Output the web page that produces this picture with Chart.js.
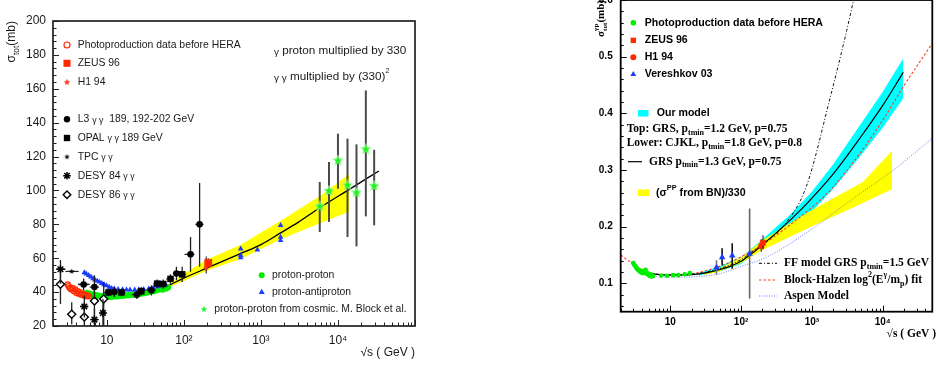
<!DOCTYPE html>
<html><head><meta charset="utf-8">
<script src="https://cdn.jsdelivr.net/npm/chart.js@4.4.0/dist/chart.umd.min.js"></script>
<style>
html,body{margin:0;padding:0;background:#fff;overflow:hidden;width:937px;height:365px;}
#c1{position:absolute;left:0;top:0;width:470px;height:365px;}
#c2{position:absolute;left:470px;top:-15px;width:467px;height:380px;}
</style></head><body>
<canvas id="c1" width="470" height="365"></canvas>
<canvas id="c2" width="467" height="380"></canvas>
<script>
// ================= LEFT PANEL DATA (sigma_tot, mb) =================
const leftXTicks = [10, 100, 1000, 10000];
const leftXTickLabels = ['10', '10²', '10³', '10⁴'];
const leftYTicks = [20, 40, 60, 80, 100, 120, 140, 160, 180, 200];

const photoX = [3.1, 3.2, 3.3, 3.45, 3.6, 3.75, 3.9, 4.05, 4.2, 4.35, 4.5, 4.65, 4.8, 5.0, 5.2, 5.4, 5.65, 5.9];
const photoY = [44.5, 43.5, 42.5, 41.5, 42.5, 40.5, 41.5, 39.5, 40.5, 39.0, 40.0, 38.5, 39.0, 38.0, 38.5, 37.5, 38.0, 37.5];

const zeusX = [207], zeusY = [57.2], zeusLo = [54.5], zeusHi = [60];
const h1X = [195], h1Y = [54.4], h1Lo = [51], h1Hi = [61];

const l3X = [5.0, 6.9, 12.5, 24.5, 37.8, 80, 122, 160];
const l3Y = [44.5, 43.0, 40.0, 38.5, 41.0, 51.0, 62.3, 80.0];
const l3Lo = [41, 36, 37, 36, 38, 47, 52, 55];
const l3Hi = [48, 50, 43, 41, 44, 55, 72.5, 104.4];
const l3XLo = [4.3, 6.0, 11, 21, 33, 72, 102, 141];
const l3XHi = [5.8, 7.9, 14, 28, 43, 90, 137, 180];

const opalX = [10.5, 15.5, 28, 45, 54, 67, 95];
const opalY = [39.8, 39.8, 40.5, 45.0, 44.8, 47.8, 50.5];
const opalLo = [37.5, 37.5, 38, 42.5, 42, 45, 46];
const opalHi = [42, 42, 43, 47.5, 47.5, 50.5, 55];
const opalXLo = [9, 13.5, 25, 40, 48, 59, 84];
const opalXHi = [12, 17.5, 31, 50, 60, 75, 107];

const tpcX = [3.5, 5.0], tpcY = [52.2, 44.6], tpcXLo = [2.9, 4.2], tpcXHi = [4.3, 6.0];

const desy84X = [2.5, 5.1, 6.9, 8.9];
const desy84Y = [53.5, 31.5, 23.8, 27.7];
const desy84Lo = [45, 25, 20, 20], desy84Hi = [59, 38, 30, 36];
const desy84XLo = [2.2, 4.5, 6.1, 8.2], desy84XHi = [2.9, 5.7, 7.8, 9.7];

const desy86X = [2.5, 3.5, 5.1, 6.9, 9.1];
const desy86Y = [44.6, 26.9, 25.3, 34.7, 36.0];
const desy86Lo = [33, 21, 20, 22, 20], desy86Hi = [51, 34, 31, 45, 46];
const desy86XLo = [2.2, 3.1, 4.5, 6.1, 8.3], desy86XHi = [2.9, 4.0, 5.7, 7.8, 10];

const ppX = [5.5, 6.0, 6.5, 7.0, 7.5, 8.0, 8.7, 9.4, 10.2, 11, 12, 13, 14, 15.5, 17, 19, 21, 23, 25, 27.5, 30, 33, 37, 41, 45, 50, 53, 58, 62];
const ppY = [39.5, 39.0, 38.6, 38.2, 38.0, 37.7, 37.5, 37.4, 37.3, 37.3, 37.4, 37.5, 37.6, 37.8, 38.0, 38.2, 38.4, 38.6, 38.8, 39.1, 39.4, 39.8, 40.2, 40.7, 41.2, 41.8, 41.5, 42.2, 42.8];

const pbarX = [5.1, 5.4, 5.8, 6.2, 6.6, 7.0, 7.5, 8.0, 8.6, 9.2, 9.9, 10.7, 11.5, 12.5, 14, 16, 18, 20, 23, 26, 30, 35, 40, 46, 52, 58, 546, 546, 546, 900, 1800, 1800, 1800];
const pbarY = [51.5, 50.8, 49.9, 49.0, 48.0, 47.3, 46.6, 46.0, 45.2, 44.5, 43.8, 43.0, 42.3, 42.0, 41.7, 41.5, 41.4, 41.4, 41.4, 41.5, 41.7, 42.0, 42.5, 43.2, 43.8, 44.5, 60.3, 61.7, 65.6, 65.0, 70.5, 72.5, 79.4];

const cosmicX = [5800, 7650, 10000, 13300, 17400, 23000, 29500];
const cosmicY = [90.6, 99.7, 117.6, 103.0, 98.7, 124.3, 102.6];
const cosmicLo = [75.5, 81.4, 101, 72.5, 67, 84.7, 79.4];
const cosmicHi = [105, 116.8, 133.5, 130.6, 127.2, 159, 124];

const fitX = [5, 7, 10, 15, 20, 30, 43, 60, 97, 204, 541, 1000, 1780, 3000, 5680, 13900, 34000];
const fitY = [39.3, 38.9, 38.7, 38.7, 38.9, 39.6, 41.2, 43.5, 48.0, 54.4, 62.7, 68.0, 74.8, 81.0, 89.5, 100.5, 111.5];

const bandX = [60, 100, 207, 546, 1780, 5700, 14000];
const bandUp = [43.5, 51, 59.5, 68, 82, 96.5, 109.5];
const bandLow = [42.5, 46.5, 53, 59.5, 71, 80.5, 87.5];

// ================= RIGHT PANEL DATA (sigma_tot gamma-p, mb) =================
const rXTicks = [10, 100, 1000, 10000];
const rXTickLabels = ['10', '10²', '10³', '10⁴'];
const rYTicks = [0.1, 0.2, 0.3, 0.4, 0.5, 0.6];

const gpX = [3.0, 3.1, 3.2, 3.3, 3.4, 3.5, 3.6, 3.7, 3.8, 3.9, 4.0, 4.1, 4.2, 4.35, 4.5, 4.6, 4.75, 4.9, 5.0, 5.15, 5.3, 5.45, 5.6, 5.75, 7.5, 9, 11, 13, 16, 19];
const gpY = [0.136, 0.133, 0.131, 0.128, 0.126, 0.124, 0.123, 0.121, 0.122, 0.119, 0.121, 0.118, 0.122, 0.119, 0.124, 0.117, 0.118, 0.115, 0.117, 0.113, 0.116, 0.112, 0.114, 0.113, 0.114, 0.1135, 0.1145, 0.1145, 0.116, 0.118];

const rZeusX = [204], rZeusY = [0.172], rZeusLo = [0.160], rZeusHi = [0.185];
const rH1X = [193], rH1Y = [0.166], rH1Lo = [0.156], rH1Hi = [0.178];

const verX = [45, 54, 75, 132];
const verY = [0.128, 0.146, 0.149, 0.152];
const verLo = [0.115, 0.132, 0.126, 0.0735];
const verHi = [0.141, 0.162, 0.171, 0.232];

const grsX = [5.5, 7, 10, 20, 30, 45, 70, 100, 140, 200, 400, 880, 2000, 5000, 10000, 19500];
const grsY = [0.117, 0.1155, 0.1148, 0.1155, 0.118, 0.123, 0.130, 0.139, 0.152, 0.168, 0.201, 0.243, 0.293, 0.360, 0.414, 0.4724];

const cyanX = [25, 45, 100, 200, 500, 1000, 2000, 5000, 10000, 19500];
const cyanUp = [0.118, 0.128, 0.146, 0.178, 0.222, 0.262, 0.310, 0.383, 0.438, 0.497];
const cyanLow = [0.114, 0.119, 0.134, 0.163, 0.196, 0.227, 0.267, 0.327, 0.375, 0.4265];

const bnX = [30, 45, 100, 200, 832, 5220, 13500];
const bnUp = [0.118, 0.124, 0.145, 0.176, 0.2235, 0.279, 0.334];
const bnLow = [0.115, 0.119, 0.136, 0.159, 0.196, 0.242, 0.266];

const bhX = [2, 3, 4, 5, 7, 10, 15, 20, 30, 50, 100, 200, 500, 1000, 2000, 5000, 10000, 19500, 50000];
const bhY = [0.150, 0.134, 0.124, 0.119, 0.1157, 0.1148, 0.1152, 0.117, 0.1215, 0.130, 0.147, 0.168, 0.204, 0.234, 0.270, 0.333, 0.388, 0.447, 0.5235];

const aspenX = [5, 7, 10, 20, 50, 100, 200, 331, 1000, 2460, 5000, 13500, 50000];
const aspenY = [0.113, 0.1115, 0.111, 0.1115, 0.117, 0.130, 0.143, 0.157, 0.196, 0.232, 0.260, 0.298, 0.356];

const ffX = [5.5, 10, 20, 50, 100, 200, 390, 832, 1774, 3110, 4200];
const ffY = [0.117, 0.1145, 0.116, 0.126, 0.142, 0.170, 0.200, 0.2706, 0.4235, 0.547, 0.62];

// ================= HELPERS =================
const H = Chart.helpers;
const LF = '"Liberation Sans", Arial, Helvetica, sans-serif';
const SF = '"Liberation Serif", "Times New Roman", serif';
const pts = (xs, ys) => xs.map((x, i) => ({x, y: ys[i]}));
const pairs = (a, b) => a.map((v, i) => [v, b[i]]);

function starImg(size, fill, stroke) {
  const c = document.createElement('canvas');
  c.width = size; c.height = size;
  const g = c.getContext('2d');
  const cx = size / 2, cy = size / 2, R = size / 2 - 0.6, r = R * 0.42;
  g.beginPath();
  for (let i = 0; i < 10; i++) {
    const a = -Math.PI / 2 + i * Math.PI / 5, rr = i % 2 ? r : R;
    const px = cx + rr * Math.cos(a), py = cy + rr * Math.sin(a);
    if (i) g.lineTo(px, py); else g.moveTo(px, py);
  }
  g.closePath();
  g.fillStyle = fill; g.fill();
  if (stroke) { g.strokeStyle = stroke; g.lineWidth = 0.8; g.stroke(); }
  return c;
}
const greenStar = starImg(12, '#22f022', '#9cff9c');
const greenStarSmall = starImg(8, '#22f022', null);
const redStar = starImg(8, '#ff3010', null);
const blackStar = starImg(7, '#000', null);

function rich(ctx, x, y, parts, o) {
  const size = o.size, weight = o.weight || 'normal', fam = o.family, align = o.align || 'left';
  const segs = parts.map(p => typeof p === 'string' ? {t: p} : p);
  let cur = 0, prevStart = 0;
  const lay = [];
  for (const s of segs) {
    const sz = size * (s.s || 1);
    ctx.font = `${weight} ${sz}px ${s.f || fam}`;
    const w = ctx.measureText(s.t).width;
    let sx;
    if (s.stack) { sx = prevStart; cur = Math.max(cur, sx + w); }
    else { sx = cur; cur = sx + w; }
    prevStart = sx;
    lay.push({s, sx, font: ctx.font});
  }
  const x0 = align === 'right' ? x - cur : align === 'center' ? x - cur / 2 : x;
  ctx.textAlign = 'left'; ctx.textBaseline = 'middle'; ctx.fillStyle = o.color || '#000';
  for (const L of lay) { ctx.font = L.font; ctx.fillText(L.s.t, x0 + L.sx, y + (L.s.dy || 0) * size); }
  return cur;
}
function richRot(ctx, x, y, parts, o) {
  ctx.save(); ctx.translate(x, y); ctx.rotate(-Math.PI / 2); rich(ctx, 0, 0, parts, o); ctx.restore();
}
function marker(ctx, style, x, y, r, fill, stroke, bw) {
  ctx.save();
  ctx.fillStyle = fill; ctx.strokeStyle = stroke || fill; ctx.lineWidth = bw || 0;
  H.drawPoint(ctx, {pointStyle: style, radius: r, rotation: 0, borderWidth: bw || 0}, x, y);
  ctx.restore();
}

const errorBars = {
  id: 'errorBars',
  beforeDatasetDraw(chart, args) {
    const ds = chart.data.datasets[args.index];
    if (!ds.errY && !ds.errX) return;
    const {ctx, chartArea: a, scales: {x, y}} = chart;
    ctx.save();
    ctx.beginPath(); ctx.rect(a.left, a.top, a.right - a.left, a.bottom - a.top); ctx.clip();
    ctx.lineWidth = ds.errWidth || 1;
    ds.data.forEach((p, i) => {
      ctx.strokeStyle = Array.isArray(ds.errColor) ? ds.errColor[i] : (ds.errColor || '#000');
      const px = x.getPixelForValue(p.x), py = y.getPixelForValue(p.y);
      ctx.beginPath();
      if (ds.errY) { ctx.moveTo(px, y.getPixelForValue(ds.errY[i][0])); ctx.lineTo(px, y.getPixelForValue(ds.errY[i][1])); }
      if (ds.errX) { ctx.moveTo(x.getPixelForValue(ds.errX[i][0]), py); ctx.lineTo(x.getPixelForValue(ds.errX[i][1]), py); }
      ctx.stroke();
    });
    ctx.restore();
  }
};

function makeFrame(o) {
  return {
    id: 'frame' + o.name,
    afterDatasetsDraw(chart) {
      const {ctx, chartArea: a, scales: {x, y}} = chart;
      ctx.save();
      ctx.strokeStyle = o.color; ctx.lineWidth = 1;
      ctx.beginPath();
      const i0 = Math.ceil(y.min / o.yMinor - 1e-6), i1 = Math.floor(y.max / o.yMinor + 1e-6);
      for (let i = i0; i <= i1; i++) {
        const v = i * o.yMinor;
        const q = v / o.yMajor, isMajor = Math.abs(q - Math.round(q)) < 1e-6;
        const py = Math.round(y.getPixelForValue(v)) + 0.5;
        ctx.moveTo(a.left, py); ctx.lineTo(a.left + (isMajor ? o.major : o.minor), py);
      }
      for (let e = Math.floor(Math.log10(x.min)); e <= Math.ceil(Math.log10(x.max)); e++) {
        for (let k = 1; k <= 9; k++) {
          const v = k * Math.pow(10, e);
          if (v < x.min * 0.999 || v > x.max * 1.001) continue;
          const px = Math.round(x.getPixelForValue(v)) + 0.5;
          ctx.moveTo(px, a.bottom); ctx.lineTo(px, a.bottom - (k === 1 ? o.major : o.minor));
        }
      }
      ctx.stroke();
      ctx.lineWidth = o.frameWidth;
      ctx.strokeRect(a.left, a.top, a.right - a.left, a.bottom - a.top);
      ctx.restore();
    }
  };
}

// ================= LEFT CHART =================
const leftAnnot = {
  id: 'leftAnnot',
  afterDraw(chart) {
    const ctx = chart.ctx;
    ctx.save();
    const T = {size: 10.4, family: LF, color: '#1a1a1a'};
    const g = {t: 'γ γ', s: 0.85, dy: 0.1};
    const mx = 67, tx = 77.7;
    marker(ctx, 'circle', mx, 45, 3, '#fff', '#ff2a00', 1.2);
    rich(ctx, tx, 45, ['Photoproduction data before HERA'], T);
    marker(ctx, 'rect', mx, 63.3, 5, '#ff2a00');
    rich(ctx, tx, 63.3, ['ZEUS 96'], T);
    marker(ctx, redStar, mx, 82.3, 4);
    rich(ctx, tx, 82.3, ['H1 94'], T);
    marker(ctx, 'circle', mx, 119.3, 3.2, '#000');
    rich(ctx, tx, 119.3, ['L3 ', g, '  189, 192-202 GeV'], T);
    marker(ctx, 'rect', mx, 138, 4.5, '#000');
    rich(ctx, tx, 138, ['OPAL ', g, ' 189 GeV'], T);
    marker(ctx, blackStar, mx, 157, 3);
    rich(ctx, tx, 157, ['TPC ', g], T);
    marker(ctx, 'star', mx, 175.7, 3.8, '#000', '#000', 1.5);
    rich(ctx, tx, 175.7, ['DESY 84 ', g], T);
    marker(ctx, 'rectRot', mx, 194.7, 3.8, '#fff', '#000', 1.4);
    rich(ctx, tx, 194.7, ['DESY 86 ', g], T);

    const T2 = {size: 11.7, family: LF, color: '#1a1a1a'};
    rich(ctx, 274, 51, [{t: 'γ', s: 0.85, dy: 0.1}, ' proton multiplied by 330'], T2);
    rich(ctx, 274, 77, [{t: 'γ γ', s: 0.85, dy: 0.1}, ' multiplied by (330)', {t: '2', s: 0.6, dy: -0.55}], T2);

    marker(ctx, 'circle', 261.7, 275.3, 3, '#00ee00');
    rich(ctx, 272, 275.3, ['proton-proton'], T);
    marker(ctx, 'triangle', 261.7, 292.3, 3.5, '#1a3cff');
    rich(ctx, 272, 292.3, ['proton-antiproton'], T);
    marker(ctx, greenStarSmall, 204, 309.3, 4);
    rich(ctx, 214.3, 309.3, ['proton-proton from cosmic. M. Block et al.'], T);

    richRot(ctx, 12, 21, ['σ', {t: 'tot', s: 0.7, dy: 0.35}, '(mb)'], {size: 12, family: LF, color: '#1a1a1a', align: 'right'});
    rich(ctx, 415, 352.7, ['√s ( GeV )'], {size: 12, family: LF, color: '#1a1a1a', align: 'right'});
    ctx.restore();
  }
};

const ptDS = (o) => Object.assign({showLine: false, pointBorderWidth: 0, borderWidth: 0}, o);
const leftDatasets = [
  ptDS({label: 'proton-proton from cosmic', data: pts(cosmicX, cosmicY), pointStyle: greenStar, pointRadius: 6,
    errY: pairs(cosmicLo, cosmicHi), errColor: '#4a4a4a', errWidth: 2, order: 1}),
  ptDS({label: 'ZEUS 96', data: pts(zeusX, zeusY), pointStyle: 'rect', pointRadius: 5.5,
    pointBackgroundColor: '#ff2a00', errY: pairs(zeusLo, zeusHi), errColor: '#333', errWidth: 1.2, order: 2}),
  ptDS({label: 'H1 94', data: pts(h1X, h1Y), pointStyle: redStar, pointRadius: 4,
    errY: pairs(h1Lo, h1Hi), errColor: '#333', errWidth: 1.2, order: 2}),
  ptDS({label: 'L3', data: pts(l3X, l3Y), pointStyle: 'circle', pointRadius: 3.3, pointBackgroundColor: '#000',
    errY: pairs(l3Lo, l3Hi), errX: pairs(l3XLo, l3XHi), errColor: '#222', errWidth: 1.3, order: 2}),
  ptDS({label: 'OPAL', data: pts(opalX, opalY), pointStyle: 'rect', pointRadius: 4.6, pointBackgroundColor: '#000',
    errY: pairs(opalLo, opalHi), errX: pairs(opalXLo, opalXHi), errColor: '#222', errWidth: 1.3, order: 2}),
  ptDS({label: 'TPC', data: pts(tpcX, tpcY), pointStyle: blackStar, pointRadius: 3,
    errX: pairs(tpcXLo, tpcXHi), errColor: '#222', errWidth: 1.2, order: 3}),
  ptDS({label: 'DESY 84', data: pts(desy84X, desy84Y), pointStyle: 'star', pointRadius: 4, pointBorderWidth: 1.5,
    pointBorderColor: '#000', errY: pairs(desy84Lo, desy84Hi), errX: pairs(desy84XLo, desy84XHi), errColor: '#222', errWidth: 1.3, order: 3}),
  ptDS({label: 'DESY 86', data: pts(desy86X, desy86Y), pointStyle: 'rectRot', pointRadius: 4, pointBorderWidth: 1.4,
    pointBorderColor: '#000', pointBackgroundColor: '#fff', errY: pairs(desy86Lo, desy86Hi), errX: pairs(desy86XLo, desy86XHi), errColor: '#222', errWidth: 1.3, order: 3}),
  ptDS({label: 'Photoproduction before HERA', data: pts(photoX, photoY), pointStyle: 'circle', pointRadius: 2.6,
    pointBorderWidth: 1.2, pointBorderColor: '#ff2a00', pointBackgroundColor: 'rgba(255,255,255,0)', order: 4}),
  ptDS({label: 'proton-antiproton', data: pts(pbarX, pbarY), pointStyle: 'triangle', pointRadius: 3.3,
    pointBackgroundColor: '#1a3cff', order: 5}),
  ptDS({label: 'proton-proton', data: pts(ppX, ppY), pointStyle: 'circle', pointRadius: 3.2,
    pointBackgroundColor: '#00ee00', order: 6}),
  {label: 'fit', data: pts(fitX, fitY), showLine: true, pointRadius: 0, borderColor: '#000', borderWidth: 1.3,
    cubicInterpolationMode: 'monotone', fill: false, order: 10},
  {label: 'band low', data: pts(bandX, bandLow), showLine: true, pointRadius: 0, borderColor: 'rgba(0,0,0,0)', borderWidth: 0, fill: false, order: 20},
  {label: 'band up', data: pts(bandX, bandUp), showLine: true, pointRadius: 0, borderColor: 'rgba(0,0,0,0)', borderWidth: 0,
    fill: '-1', backgroundColor: '#ffff00', order: 20}
];

new Chart(document.getElementById('c1'), {
  type: 'scatter',
  data: {datasets: leftDatasets},
  options: {
    responsive: false, animation: false, events: [],
    layout: {padding: {left: 0, right: 55, top: 21, bottom: 0}},
    plugins: {legend: {display: false}, tooltip: {enabled: false}},
    scales: {
      x: {type: 'logarithmic', min: 2, max: 1e5,
        grid: {display: false, drawTicks: false}, border: {display: false},
        afterBuildTicks: s => { s.ticks = leftXTicks.map(v => ({value: v})); },
        afterFit: s => { s.height = 39; },
        ticks: {autoSkip: false, maxRotation: 0, padding: 7, color: '#1a1a1a', font: {family: LF, size: 12},
          callback: (v, i) => leftXTickLabels[i]}},
      y: {type: 'linear', min: 20, max: 200,
        grid: {display: false, drawTicks: false}, border: {display: false},
        afterBuildTicks: s => { s.ticks = leftYTicks.map(v => ({value: v})); },
        afterFit: s => { s.width = 53; },
        ticks: {padding: 7, color: '#1a1a1a', font: {family: LF, size: 12}, callback: v => String(v)}}
    }
  },
  plugins: [errorBars, makeFrame({name: 'L', color: '#222', yMinor: 4, yMajor: 20, major: 6, minor: 3.5, frameWidth: 1.7}), leftAnnot]
});

// ================= RIGHT CHART =================
const rightAnnot = {
  id: 'rightAnnot',
  afterDraw(chart) {
    const ctx = chart.ctx;
    ctx.save();
    ctx.translate(-470, 15); // page coordinates
    const B = {size: 10.6, family: LF, weight: 'bold', color: '#000'};
    const S = {size: 11.5, family: SF, weight: 'bold', color: '#000'};
    const sub = t => ({t, s: 0.7, dy: 0.3});
    const sup = t => ({t, s: 0.7, dy: -0.4});
    const mx = 633.3, tx = 644.7;
    marker(ctx, 'circle', mx, 22.7, 2.8, '#00ee00');
    rich(ctx, tx, 22.7, ['Photoproduction data before HERA'], B);
    marker(ctx, 'rect', mx, 40.3, 3.8, '#ff2a00');
    rich(ctx, tx, 40.3, ['ZEUS 96'], B);
    marker(ctx, 'circle', mx, 57.3, 3, '#ff2a00');
    rich(ctx, tx, 57.3, ['H1 94'], B);
    marker(ctx, 'triangle', mx, 74.3, 3.4, '#1a3cff');
    rich(ctx, tx, 74.3, ['Vereshkov 03'], B);

    ctx.fillStyle = '#00ffff'; ctx.fillRect(638, 110, 10.5, 6.5);
    rich(ctx, 656.7, 113.3, ['Our model'], B);
    rich(ctx, 626.7, 129.3, ['Top: GRS, p', sub('tmin'), '=1.2 GeV, p=0.75'], S);
    rich(ctx, 626.7, 143.3, ['Lower: CJKL, p', sub('tmin'), '=1.8 GeV, p=0.8'], S);
    ctx.strokeStyle = '#000'; ctx.lineWidth = 1.2; ctx.setLineDash([]);
    ctx.beginPath(); ctx.moveTo(628, 161.7); ctx.lineTo(642, 161.7); ctx.stroke();
    rich(ctx, 649, 161.7, ['GRS p', sub('tmin'), '=1.3 GeV, p=0.75'], S);
    ctx.fillStyle = '#ffff00'; ctx.fillRect(637.7, 189.5, 11.6, 6.5);
    rich(ctx, 656, 192.7, ['(σ', sup('PP'), ' from BN)/330'], B);

    ctx.lineWidth = 1;
    ctx.strokeStyle = '#000'; ctx.setLineDash([3, 2, 1, 2]);
    ctx.beginPath(); ctx.moveTo(759, 263.3); ctx.lineTo(777, 263.3); ctx.stroke();
    rich(ctx, 784, 263.3, ['FF model GRS p', sub('tmin'), '=1.5 GeV'], S);
    ctx.strokeStyle = '#ff3b1f'; ctx.setLineDash([2.5, 2]);
    ctx.beginPath(); ctx.moveTo(759, 280); ctx.lineTo(777, 280); ctx.stroke();
    rich(ctx, 784, 280, ['Block-Halzen log', sup('2'), '(E', sup('γ'), '/m', sub('p'), ') fit'], S);
    ctx.strokeStyle = '#6b7bff'; ctx.setLineDash([1, 1.5]);
    ctx.beginPath(); ctx.moveTo(759, 296); ctx.lineTo(777, 296); ctx.stroke();
    rich(ctx, 784, 296, ['Aspen Model'], S);
    ctx.setLineDash([]);

    richRot(ctx, 601.5, 0, ['σ', {t: 'tot', s: 0.65, dy: 0.35}, {t: 'γp', s: 0.65, dy: -0.45, stack: true}, '(mb)'],
      {size: 11, family: SF, weight: 'bold', color: '#000', align: 'right'});
    rich(ctx, 936, 334.3, ['√s ( GeV )'], {size: 11.5, family: SF, weight: 'bold', color: '#000', align: 'right'});
    ctx.restore();
  }
};

const rightDatasets = [
  ptDS({label: 'ZEUS 96', data: pts(rZeusX, rZeusY), pointStyle: 'rect', pointRadius: 4, pointBackgroundColor: '#ff2a00',
    errY: pairs(rZeusLo, rZeusHi), errColor: '#333', errWidth: 1.2, order: 1}),
  ptDS({label: 'H1 94', data: pts(rH1X, rH1Y), pointStyle: 'circle', pointRadius: 3.2, pointBackgroundColor: '#ff2a00',
    errY: pairs(rH1Lo, rH1Hi), errColor: '#333', errWidth: 1.2, order: 1}),
  ptDS({label: 'Vereshkov 03', data: pts(verX, verY), pointStyle: 'triangle', pointRadius: 3.8, pointBackgroundColor: '#1a3cff',
    errY: pairs(verLo, verHi), errColor: ['#777', '#111', '#111', '#666'], errWidth: 1.6, order: 2}),
  ptDS({label: 'Photoproduction before HERA', data: pts(gpX, gpY), pointStyle: 'circle', pointRadius: 2.3,
    pointBackgroundColor: '#00ee00', order: 3}),
  {label: 'GRS', data: pts(grsX, grsY), showLine: true, pointRadius: 0, borderColor: '#000', borderWidth: 1.2,
    cubicInterpolationMode: 'monotone', fill: false, order: 8},
  {label: 'FF', data: pts(ffX, ffY), showLine: true, pointRadius: 0, borderColor: '#111', borderWidth: 1, borderDash: [3, 2, 1, 2],
    cubicInterpolationMode: 'monotone', fill: false, order: 9},
  {label: 'Block-Halzen', data: pts(bhX, bhY), showLine: true, pointRadius: 0, borderColor: '#ff3b1f', borderWidth: 1.1, borderDash: [2.5, 2],
    cubicInterpolationMode: 'monotone', fill: false, order: 9},
  {label: 'Aspen', data: pts(aspenX, aspenY), showLine: true, pointRadius: 0, borderColor: '#6b7bff', borderWidth: 1, borderDash: [1, 1.5],
    cubicInterpolationMode: 'monotone', fill: false, order: 9},
  {label: 'BN low', data: pts(bnX, bnLow), showLine: true, pointRadius: 0, borderColor: 'rgba(0,0,0,0)', borderWidth: 0, fill: false, order: 20},
  {label: 'BN up', data: pts(bnX, bnUp), showLine: true, pointRadius: 0, borderColor: 'rgba(0,0,0,0)', borderWidth: 0,
    fill: '-1', backgroundColor: '#ffff00', order: 20},
  {label: 'model low', data: pts(cyanX, cyanLow), showLine: true, pointRadius: 0, borderColor: 'rgba(0,0,0,0)', borderWidth: 0, fill: false, order: 30},
  {label: 'model up', data: pts(cyanX, cyanUp), showLine: true, pointRadius: 0, borderColor: 'rgba(0,0,0,0)', borderWidth: 0,
    fill: '-1', backgroundColor: '#00ffff', order: 30}
];

new Chart(document.getElementById('c2'), {
  type: 'scatter',
  data: {datasets: rightDatasets},
  options: {
    responsive: false, animation: false, events: [],
    layout: {padding: {left: 0, right: 4.7, top: 15, bottom: 0}},
    plugins: {legend: {display: false}, tooltip: {enabled: false}},
    scales: {
      x: {type: 'logarithmic', min: 2, max: 5e4,
        grid: {display: false, drawTicks: false}, border: {display: false},
        afterBuildTicks: s => { s.ticks = rXTicks.map(v => ({value: v})); },
        afterFit: s => { s.height = 53.3; },
        ticks: {autoSkip: false, maxRotation: 0, padding: 5, color: '#000', font: {family: LF, size: 10, weight: 'bold'},
          callback: (v, i) => rXTickLabels[i]}},
      y: {type: 'linear', min: 0.05, max: 0.6,
        grid: {display: false, drawTicks: false}, border: {display: false},
        afterBuildTicks: s => { s.ticks = rYTicks.map(v => ({value: v})); },
        afterFit: s => { s.width = 150.7; },
        ticks: {padding: 8, color: '#000', font: {family: LF, size: 10, weight: 'bold'}, callback: v => v.toFixed(1)}}
    }
  },
  plugins: [errorBars, makeFrame({name: 'R', color: '#000', yMinor: 0.02, yMajor: 0.1, major: 6, minor: 3, frameWidth: 1.8}), rightAnnot]
});
</script>
</body></html>
